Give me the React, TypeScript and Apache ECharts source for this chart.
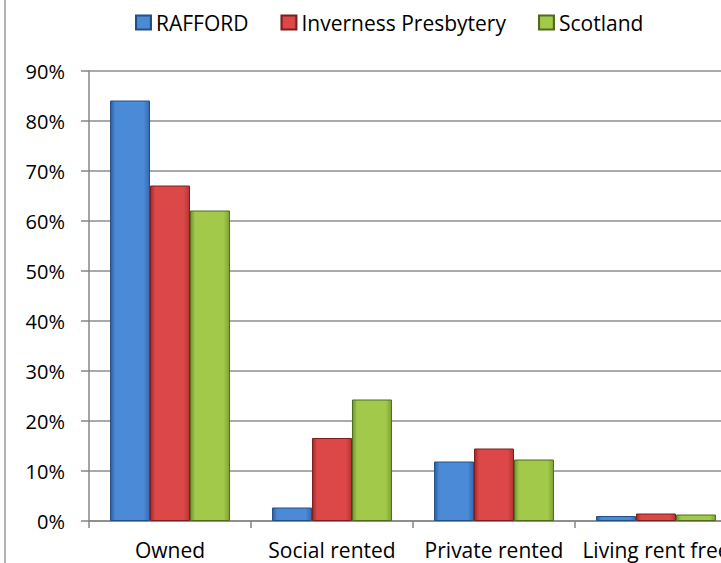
import React, { useEffect, useRef } from "react";
import * as echarts from "echarts";

const categories = ["Owned", "Social rented", "Private rented", "Living rent free"];
const seriesNames = ["RAFFORD", "Inverness Presbytery", "Scotland"];
const rafford = [84.1, 2.7, 11.9, 1.0];
const inverness = [67.1, 16.6, 14.5, 1.5];
const scotland = [62.1, 24.3, 12.3, 1.3];
const yTicks = [0, 10, 20, 30, 40, 50, 60, 70, 80, 90];

const palettes = [
  { l: "#2c5fa3", m: "#4b8ad6", r: "#3569b3", border: "#254e86" },
  { l: "#a52a2a", m: "#dc4848", r: "#b83434", border: "#7a1e1e" },
  { l: "#6f9530", m: "#a3c94a", r: "#7fa436", border: "#4e6a1e" },
];

function grad(p: any) {
  return new echarts.graphic.LinearGradient(0, 0, 1, 0, [
    { offset: 0, color: p.l },
    { offset: 0.12, color: p.m },
    { offset: 0.85, color: p.m },
    { offset: 1, color: p.r },
  ]);
}

const FONT = "Open Sans";

export default function App() {
  const ref = useRef<HTMLDivElement>(null);
  useEffect(() => {
    const chart = echarts.init(ref.current!, undefined, { renderer: "svg" });
    const data = [rafford, inverness, scotland];
    chart.setOption({
      animation: false,
      backgroundColor: "#ffffff",
      textStyle: { fontFamily: FONT },
      legend: {
        top: 7,
        left: 130,
        itemWidth: 15,
        itemHeight: 14,
        itemGap: 32,
        icon: "rect",
        textStyle: { fontSize: 21, color: "#000", fontFamily: FONT },
        data: seriesNames,
      },
      grid: { left: 89, top: 71, width: 648, height: 450, containLabel: false },
      xAxis: {
        type: "category",
        data: categories,
        axisLine: { lineStyle: { color: "#868686", width: 1.5 } },
        axisTick: { show: true, interval: 0, length: 7, lineStyle: { color: "#868686", width: 1.5 } },
        axisLabel: { interval: 0, hideOverlap: false, fontSize: 21, color: "#000", margin: 18, fontFamily: FONT },
      },
      yAxis: {
        type: "value",
        min: 0,
        max: 90,
        interval: 10,
        axisLine: { show: true, lineStyle: { color: "#868686", width: 1.5 } },
        axisTick: { show: true, length: 8, lineStyle: { color: "#868686", width: 1.5 } },
        splitLine: { lineStyle: { color: "#8c8c8c", width: 1.5 } },
        axisLabel: {
          fontSize: 20,
          color: "#000",
          margin: 24,
          fontFamily: FONT,
          formatter: (v: number) => (yTicks.includes(v) ? v + "%" : ""),
        },
      },
      graphic: [
        { type: "line", shape: { x1: 5, y1: 0, x2: 5, y2: 563 }, style: { stroke: "#9a9a9a", lineWidth: 1.5 } },
      ],
      series: seriesNames.map((name, i) => ({
        name,
        type: "bar",
        data: data[i],
        barGap: "0%",
        barCategoryGap: "26%",
        itemStyle: {
          color: grad(palettes[i]),
          borderColor: palettes[i].border,
          borderWidth: 1,
        },
      })),
    });
    return () => chart.dispose();
  }, []);
  return (
    <div style={{ position: "fixed", left: 0, top: 0, width: 721, height: 563, overflow: "hidden", background: "#fff" }}>
      <div ref={ref} style={{ width: 760, height: 563 }} />
    </div>
  );
}
